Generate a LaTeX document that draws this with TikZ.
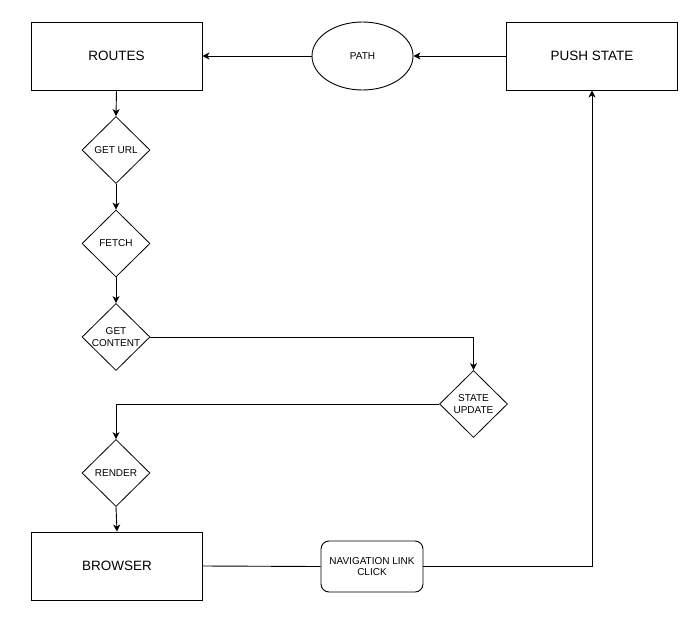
\documentclass[tikz,border=0pt]{standalone}
\usepackage{fontspec}
\setmainfont{Liberation Sans}
\usetikzlibrary{shapes.geometric,arrows.meta}
\begin{document}
\begin{tikzpicture}[x=1pt,y=-1pt,
  every node/.style={font=\fontsize{10}{11.5}\selectfont, inner sep=0pt, align=center},
  box/.style={draw, line width=0.9pt, minimum width=171pt, minimum height=68pt, font=\fontsize{13.5}{16}\selectfont},
  oval/.style={draw, line width=0.9pt, ellipse, minimum width=101pt, minimum height=68pt},
  decision/.style={draw, line width=0.8pt, diamond, minimum width=68pt, minimum height=67pt},
  roundbox/.style={draw, line width=0.9pt, rounded corners=8pt, minimum width=102pt, minimum height=51pt},
  link/.style={line width=0.9pt},
  flow/.style={link, -{Stealth[length=7pt,width=7pt,inset=2pt]}}]
\useasboundingbox (0,0) rectangle (700,618);

% top row
\node[box] (routes) at (116.5,56) {ROUTES};
\node[oval] (path) at (362.5,56) {PATH};
\node[box] (push) at (592,56) {PUSH STATE};

% left column of steps
\node[decision] (geturl) at (116,150) {GET URL};
\node[decision] (fetch) at (116,243.5) {FETCH};
\node[decision] (content) at (116,337) {GET\\CONTENT};
\node[decision] (update) at (473.5,404) {STATE\\UPDATE};
\node[decision] (render) at (116,473) {RENDER};

% bottom row
\node[box] (browser) at (117,566) {BROWSER};
\node[roundbox] (nav) at (372,566.5) {NAVIGATION LINK\\CLICK};

% connectors
\draw[flow] (push.west) -- (path.east);
\draw[flow] (path.west) -- (routes.east);
\draw[flow] (routes.south) -- (geturl.north);
\draw[flow] (geturl.south) -- (fetch.north);
\draw[flow] (fetch.south) -- (content.north);
\draw[flow] (content.east) -| (update.north);
\draw[flow] (update.west) -| (render.north);
\draw[flow] (render.south) -- (browser.north);
\draw[link] (browser.east) -- (nav.west);
\draw[flow] (nav.east) -| (push.south);
\end{tikzpicture}
\end{document}
